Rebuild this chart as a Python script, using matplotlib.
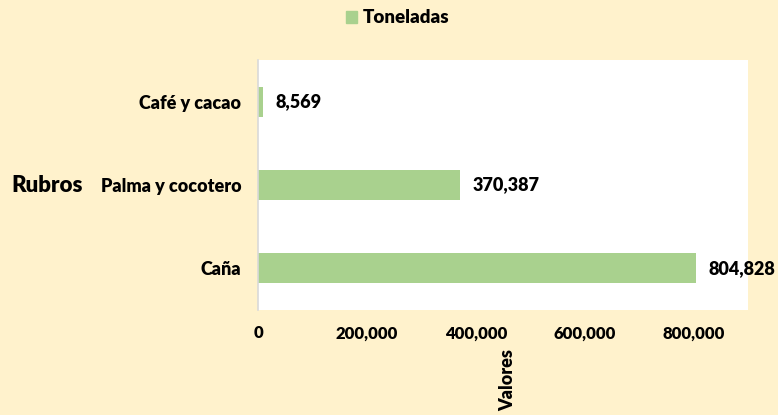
import matplotlib
matplotlib.use("Agg")
import matplotlib.pyplot as plt
from matplotlib.patches import Patch

categories = ["Caña", "Palma y cocotero", "Café y cacao"]
values = [804828, 370387, 8569]
xticks = [0, 200000, 400000, 600000, 800000]
series_name = "Toneladas"

bg = "#FFF2CC"
bar_color = "#A9D18E"
plt.rcParams["font.family"] = ["Lato", "DejaVu Sans"]
plt.rcParams["font.weight"] = "bold"

fig = plt.figure(figsize=(7.78, 4.15), dpi=100, facecolor=bg)
ax = fig.add_axes([258/778, 1-310/415, (748-258)/778, (310-60)/415])
ax.set_facecolor("white")

ypos = list(range(len(categories)))
bars = ax.barh(ypos, values, height=0.36, color=bar_color)
ax.set_xlim(0, 900000)
ax.set_ylim(-0.5, len(categories)-0.5)
ax.set_yticks(ypos)
ax.set_yticklabels(categories, fontsize=13, fontweight="heavy")
ax.set_xticks(xticks)
ax.set_xticklabels([f"{v:,}" for v in xticks], fontsize=12, fontweight="heavy")
ax.tick_params(axis="y", length=0, pad=12)
ax.tick_params(axis="x", length=0, pad=11)
for s in ["top", "right", "bottom"]:
    ax.spines[s].set_visible(False)
ax.spines["left"].set_color("#D9D9D9")
ax.spines["left"].set_linewidth(1.2)

for b, v in zip(bars, values):
    ax.annotate(f"{v:,}", (b.get_width(), b.get_y()+b.get_height()/2),
                xytext=(9, 0), textcoords="offset points", va="center", ha="left",
                fontsize=13, fontweight="heavy")

ax.set_ylabel("Rubros", rotation=0, fontsize=16, fontweight="heavy", va="center", ha="center")
ax.yaxis.set_label_coords(-0.43, 0.5)
ax.set_xlabel("Valores", rotation=90, fontsize=13, fontweight="heavy", va="center", ha="center")
ax.xaxis.set_label_coords(0.51, -0.28)

fig.legend(handles=[Patch(color=bar_color, label=series_name)], loc="upper center",
           bbox_to_anchor=(0.511, 1.018), frameon=False, handlelength=0.6, handleheight=0.6,
           handletextpad=0.3, prop={"size": 13.5, "weight": "heavy"})

fig.savefig("out.png", dpi=100, facecolor=bg)
